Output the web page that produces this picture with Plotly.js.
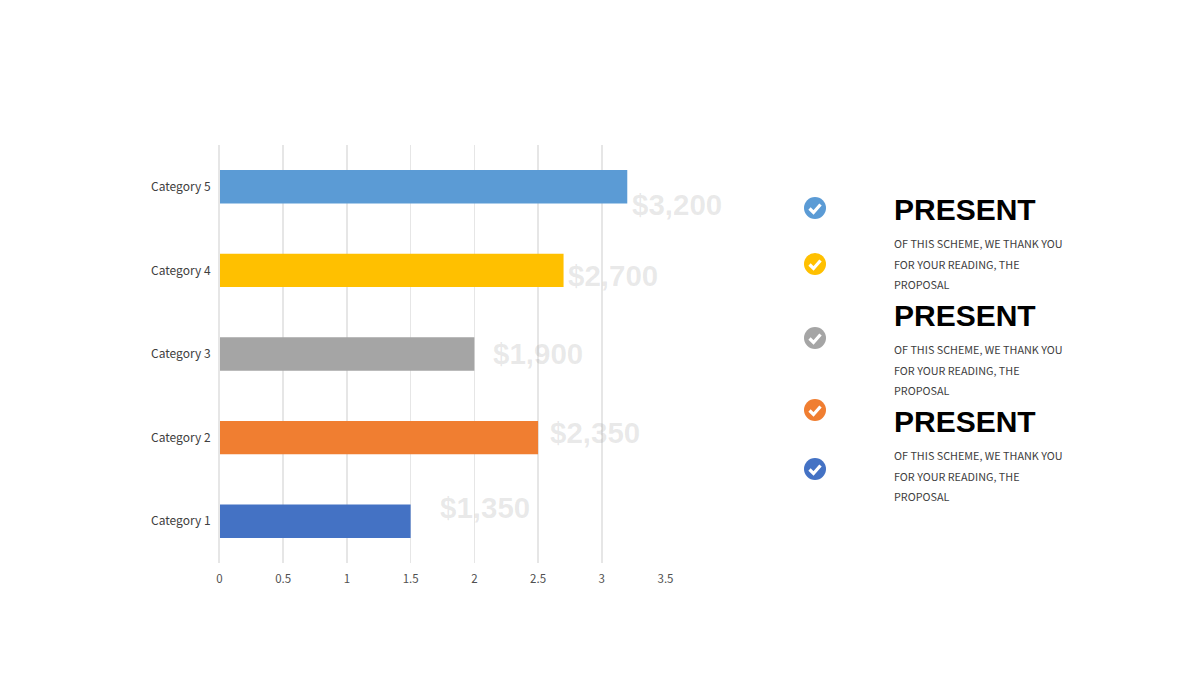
<!DOCTYPE html>
<html><head><meta charset="utf-8">
<script src="https://cdn.plot.ly/plotly-3.0.1.min.js"></script>
<style>html,body{margin:0;padding:0;background:#fff}#c{width:1200px;height:680px}</style></head>
<body><div id="c"></div>
<script>
const categories = ['Category 1','Category 2','Category 3','Category 4','Category 5'];
const values = [1.5,2.5,2,2.7,3.2];
const barColors = ['#4472C4','#F07E31','#A5A5A5','#FFC000','#5B9BD5'];
const valueLabels = ['$1,350','$2,350','$1,900','$2,700','$3,200'];
const valueLabelX = [485,595,538,613,677];
const valueLabelY = [507.5,432.5,353.5,275.5,204.5];
const iconX = [815,815,815,815,815];
const iconY = [469,410,338,264,208];
const blockTitle = 'PRESENT';
const blockTitleY = [209,315,421];
const blockLines = ['OF THIS SCHEME, WE THANK YOU','FOR YOUR READING, THE','PROPOSAL'];
const blockLineOffsets = [34,54.5,75];
const textX = 894;

const W=1200,H=680;
const cjk='"Noto Sans CJK SC","Noto Sans",sans-serif';
const arial='"Liberation Sans",Arial,sans-serif';

const ann=[];
valueLabels.forEach((t,i)=>ann.push({xref:'x2',yref:'y2',x:valueLabelX[i],y:valueLabelY[i],text:t,showarrow:false,xanchor:'center',yanchor:'middle',
  font:{family:arial,size:29.5,color:'rgba(120,120,120,0.17)',weight:700}}));
blockTitleY.forEach(y=>{
  ann.push({xref:'x2',yref:'y2',x:textX,y:y,text:'<b>'+blockTitle+'</b>',showarrow:false,xanchor:'left',yanchor:'middle',xshift:-2,
    font:{family:arial,size:30,color:'#000'}});
  blockLines.forEach((l,j)=>ann.push({xref:'x2',yref:'y2',x:textX,y:y+blockLineOffsets[j],text:l,showarrow:false,xanchor:'left',yanchor:'middle',xshift:-2,
    font:{family:cjk,size:10.8,color:'#404040'}}));
});

const checks=iconX.map((x,i)=>{const y=iconY[i];return {type:'path',xref:'x2',yref:'y2',
  path:`M${x-5.5},${y+0.5} L${x-1.5},${y+4.5} L${x+5.5},${y-3.5}`,line:{color:'#fff',width:3.2},layer:'above'};});

const traces=[
 {type:'bar',orientation:'h',y:categories,x:values,width:0.4,marker:{color:barColors,line:{width:0}},hoverinfo:'skip',xaxis:'x',yaxis:'y'},
 {type:'scatter',mode:'markers',x:iconX,y:iconY,xaxis:'x2',yaxis:'y2',marker:{size:22,color:barColors,symbol:'circle',line:{width:0}},hoverinfo:'skip'}
];
const layout={
 width:W,height:H,margin:{l:0,r:0,t:0,b:0},paper_bgcolor:'#fff',plot_bgcolor:'rgba(0,0,0,0)',showlegend:false,
 xaxis:{domain:[219.5/W,665.5/W],range:[0,3.5],tickvals:[0,0.5,1,1.5,2,2.5,3,3.5],ticktext:['0','0.5','1','1.5','2','2.5','3','3.5'],
   showgrid:true,gridcolor:'#E6E6E6',gridwidth:1.5,zeroline:false,showline:false,ticks:'',anchor:'y',ticklabelstandoff:7,
   tickfont:{family:cjk,size:11.5,color:'#505050'},automargin:false},
 yaxis:{domain:[1-563/H,1-145/H],type:'category',range:[-0.5,4.5],showgrid:false,zeroline:false,
   showline:true,linecolor:'#E6E6E6',linewidth:1.5,ticks:'',anchor:'x',ticklabelstandoff:5,
   tickfont:{family:cjk,size:12,color:'#404040'},automargin:false},
 xaxis2:{domain:[0,1],range:[0,W],visible:false,anchor:'y2',fixedrange:true},
 yaxis2:{domain:[0,1],range:[H,0],visible:false,anchor:'x2',fixedrange:true},
 annotations:ann,shapes:checks
};
Plotly.newPlot('c',traces,layout,{displayModeBar:false,staticPlot:true});
</script></body></html>
